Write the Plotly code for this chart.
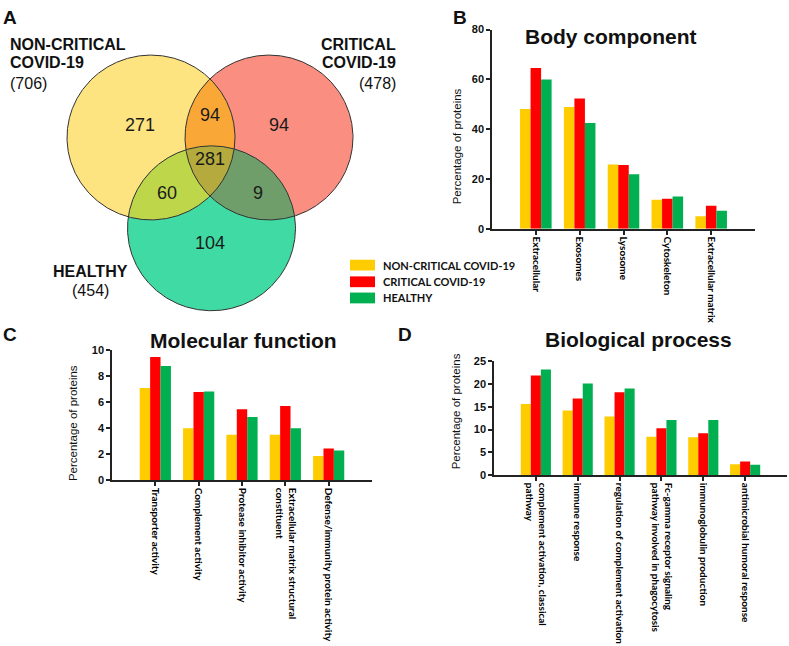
import numpy as np
import plotly.graph_objects as go

W, H = 789, 646

# ---------------- data ----------------
series_names = ["NON-CRITICAL COVID-19", "CRITICAL COVID-19", "HEALTHY"]
series_colors = ["#FFCC00", "#FF0000", "#00B050"]

venn_set_labels = ["NON-CRITICAL<br>COVID-19", "CRITICAL<br>COVID-19", "HEALTHY"]
venn_set_totals = [706, 478, 454]
# regions: NC only, NC&CR, CR only, all three, NC&HE, CR&HE, HE only
venn_region_counts = [271, 94, 94, 281, 60, 9, 104]

body_cats = ["Extracellular", "Exosomes", "Lysosome", "Cytoskeleton", "Extracellular matrix"]
body_nc = [48.1, 48.9, 25.8, 11.7, 5.0]
body_cr = [64.6, 52.3, 25.6, 12.1, 9.2]
body_he = [59.9, 42.5, 21.9, 13.0, 7.2]

mol_cats = ["Transporter activity", "Complement activity", "Protease inhibitor activity",
            "Extracellular matrix structural<br>constituent", "Defense/immunity protein activity"]
mol_nc = [7.1, 4.0, 3.5, 3.5, 1.85]
mol_cr = [9.5, 6.8, 5.47, 5.72, 2.43]
mol_he = [8.8, 6.84, 4.86, 4.0, 2.28]

bio_cats = ["complement activation, classical<br>pathway", "immune response",
            "regulation of complement activation",
            "Fc-gamma receptor signaling<br>pathway involved in phagocytosis",
            "immunoglobulin production", "antimicrobial humoral response"]
bio_nc = [15.6, 14.2, 12.9, 8.4, 8.3, 2.4]
bio_cr = [21.9, 16.8, 18.2, 10.3, 9.2, 3.0]
bio_he = [23.2, 20.1, 19.0, 12.1, 12.1, 2.3]

# ---------------- layout constants ----------------
def px(x, y):
    return x / W, 1 - y / H

circle_centers = [(151.0, 134.0), (269.0, 134.0), (211.5, 226.5)]
circle_r = 84.0
region_sets = [(0,), (0, 1), (1,), (0, 1, 2), (0, 2), (1, 2), (2,)]
region_colors = ["#FDE480", "#F9A838", "#FA8E80", "#B4AA3E", "#BED64A", "#709E6A", "#40DBA5"]
region_label_pos = [(140, 123), (210, 113), (279, 123), (210, 157), (167, 192), (258, 192), (210, 243)]

fig = go.Figure()

# ---------------- Venn (pixel-coordinate axes x4/y4) ----------------
theta = np.linspace(0, 2 * np.pi, 1441)

def region_polygon(idx):
    pts = []
    for i in idx:
        cx, cy = circle_centers[i]
        xs = cx + circle_r * np.cos(theta)
        ys = cy + circle_r * np.sin(theta)
        keep = np.ones_like(xs, dtype=bool)
        for j in idx:
            if j == i:
                continue
            ox, oy = circle_centers[j]
            keep &= (xs - ox) ** 2 + (ys - oy) ** 2 <= circle_r ** 2 + 1e-6
        pts.append(np.column_stack([xs[keep], ys[keep]]))
    P = np.vstack(pts)
    c = P.mean(axis=0)
    order = np.argsort(np.arctan2(P[:, 1] - c[1], P[:, 0] - c[0]))
    P = P[order]
    return np.append(P[:, 0], P[0, 0]), np.append(P[:, 1], P[0, 1])

draw_order = [0, 2, 6, 1, 4, 5, 3]
for k in draw_order:
    xs, ys = region_polygon(region_sets[k])
    fig.add_trace(go.Scatter(x=xs, y=ys, mode="lines", fill="toself",
                             fillcolor=region_colors[k], line=dict(width=0),
                             hoverinfo="skip", showlegend=False,
                             xaxis="x4", yaxis="y4"))
for (cx, cy) in circle_centers:
    fig.add_trace(go.Scatter(x=cx + circle_r * np.cos(theta), y=cy + circle_r * np.sin(theta),
                             mode="lines", line=dict(color="#333333", width=1),
                             hoverinfo="skip", showlegend=False, xaxis="x4", yaxis="y4"))
fig.add_trace(go.Scatter(x=[p[0] for p in region_label_pos], y=[p[1] for p in region_label_pos],
                         mode="text", text=[str(v) for v in venn_region_counts],
                         textfont=dict(family="Liberation Sans", size=18, color="#1a1a1a"),
                         textposition="middle center", hoverinfo="skip", showlegend=False,
                         xaxis="x4", yaxis="y4"))

# ---------------- bars ----------------
panels = [
    ("x", "y", body_cats, [body_nc, body_cr, body_he]),
    ("x2", "y2", mol_cats, [mol_nc, mol_cr, mol_he]),
    ("x3", "y3", bio_cats, [bio_nc, bio_cr, bio_he]),
]
for xa, ya, cats, vals in panels:
    for name, col, v in zip(series_names, series_colors, vals):
        fig.add_trace(go.Bar(x=cats, y=v, name=name, marker=dict(color=col, line=dict(width=0)),
                             xaxis=xa, yaxis=ya, showlegend=False))

ax_line = dict(showline=True, linecolor="#222222", linewidth=1.5, showgrid=False, zeroline=False,
               ticks="outside", ticklen=4, tickwidth=1.5, tickcolor="#222222")
xtick_font = dict(family="Lato", size=10, color="#000000", weight="bold")
ytick_font = dict(family="Liberation Sans", size=11, color="#111111", weight="bold")

def xdom(a, b):
    return [a / W, b / W]

def ydom(bottom, top):
    return [1 - bottom / H, 1 - top / H]

fig.update_layout(
    width=W, height=H, margin=dict(l=0, r=0, t=0, b=0),
    paper_bgcolor="white", plot_bgcolor="rgba(0,0,0,0)",
    barmode="group", bargap=0.28, bargroupgap=0,
    showlegend=False,
    xaxis=dict(domain=xdom(492, 755), range=[-1, 5], type="category", anchor="y",
               tickangle=90, tickfont=xtick_font, **ax_line),
    yaxis=dict(domain=ydom(227, 24), range=[0, 80], dtick=20, anchor="x",
               tickfont=ytick_font, **ax_line),
    xaxis2=dict(domain=xdom(112, 372), range=[-1, 5], type="category", anchor="y2",
                tickangle=90, tickfont=xtick_font, **ax_line),
    yaxis2=dict(domain=ydom(483, 351), range=[0, 10], dtick=2, anchor="x2",
                tickfont=ytick_font, **ax_line),
    xaxis3=dict(domain=xdom(494, 787), range=[-1, 6], type="category", anchor="y3",
                tickangle=90, tickfont=xtick_font, **ax_line),
    yaxis3=dict(domain=ydom(478, 362), range=[0, 25], dtick=5, anchor="x3",
                tickfont=ytick_font, **ax_line),
    xaxis4=dict(domain=xdom(0, 440), range=[0, 440], visible=False, anchor="y4", fixedrange=True),
    yaxis4=dict(domain=ydom(330, 0), range=[330, 0], visible=False, anchor="x4", fixedrange=True),
)

ann = []

def add_text(x, y, text, size, bold=False, xanchor="center", yanchor="middle", angle=0,
             family="Liberation Sans", color="#111111"):
    xp, yp = px(x, y)
    ann.append(dict(x=xp, y=yp, xref="paper", yref="paper", text=text, showarrow=False,
                    xanchor=xanchor, yanchor=yanchor, textangle=angle,
                    font=dict(family=family, size=size, color=color,
                              weight="bold" if bold else "normal")))

# panel letters
add_text(10, 12, "A", 19, bold=True)
add_text(460, 12, "B", 19, bold=True)
add_text(10, 335, "C", 19, bold=True)
add_text(405, 335, "D", 19, bold=True)

# panel titles
add_text(611, 31, "Body component", 21, bold=True)
add_text(243, 341, "Molecular function", 21, bold=True)
add_text(638, 340, "Biological process", 21, bold=True)

# y-axis titles
add_text(457, 143, "Percentage of proteins", 11.5, angle=-90)
add_text(73, 425, "Percentage of proteins", 11.5, angle=-90)
add_text(456, 413, "Percentage of proteins", 11.5, angle=-90)

# Venn set labels
nc_lines = venn_set_labels[0].split("<br>")
cr_lines = venn_set_labels[1].split("<br>")
add_text(8, 39, nc_lines[0], 16, bold=True, xanchor="left")
add_text(8, 58, nc_lines[1], 16, bold=True, xanchor="left")
add_text(8, 79, "(%d)" % venn_set_totals[0], 16, xanchor="left")
add_text(398, 39, cr_lines[0], 16, bold=True, xanchor="right")
add_text(398, 58, cr_lines[1], 16, bold=True, xanchor="right")
add_text(398, 79, "(%d)" % venn_set_totals[1], 16, xanchor="right")
add_text(90, 271, venn_set_labels[2], 16, bold=True)
add_text(90, 290, "(%d)" % venn_set_totals[2], 16)

# manual legend
shapes = []
leg_y = [264, 281, 297.5]
for name, col, yy in zip(series_names, series_colors, leg_y):
    x0, y0 = px(350, yy - 5.5)
    x1, y1 = px(375, yy + 5.5)
    shapes.append(dict(type="rect", xref="paper", yref="paper", x0=x0, x1=x1, y0=y1, y1=y0,
                       fillcolor=col, line=dict(width=0)))
    add_text(381, yy, name, 11, bold=True, xanchor="left", family="Lato")

fig.update_layout(annotations=ann, shapes=shapes)

fig.write_html("out.html", config={"displayModeBar": False},
               post_script="document.body.style.margin='0';document.body.style.padding='0';"
                           "document.body.style.overflow='hidden';")
